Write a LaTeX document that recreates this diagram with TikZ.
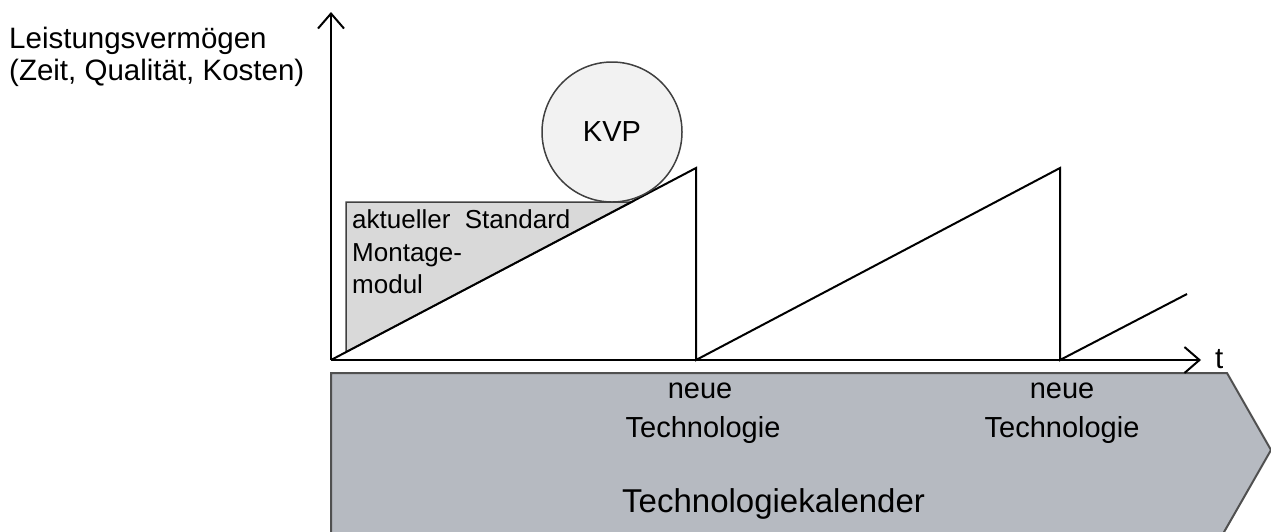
\documentclass[tikz,border=0pt]{standalone}
\usepackage{fontspec}
\setmainfont{Liberation Sans}
\usetikzlibrary{arrows.meta}
\definecolor{banner}{HTML}{B6BAC1}
\definecolor{bannerline}{HTML}{505050}
\definecolor{tri}{HTML}{D9D9D9}
\definecolor{kvp}{HTML}{F2F2F2}
\begin{document}
\begin{tikzpicture}[x=1pt,y=-1pt,
  lbl/.style={inner sep=0pt,anchor=base west,font=\fontsize{29.5}{34}\selectfont},
  clbl/.style={inner sep=0pt,anchor=base,font=\fontsize{29}{34}\selectfont},
  tlbl/.style={inner sep=0pt,anchor=base west,font=\fontsize{26}{30}\selectfont},
  axis/.style={line width=2.5pt,-{Straight Barb[length=15pt,width=26pt,line width=2pt]}},
  saw/.style={line width=2pt,line join=miter},
]
\useasboundingbox (0,0) rectangle (1271,531);
\begin{scope}
\clip (0,0) rectangle (1271,531);
% banner
\draw[fill=banner,draw=bannerline,line width=2pt]
  (331,373) -- (1227,373) -- (1271,450) -- (1208,560) -- (331,560) -- cycle;
\end{scope}
% coordinates
\coordinate (O) at (331,360);
\coordinate (Ytip) at (331,12);
\coordinate (Xtip) at (1201,360);
\coordinate (P1) at (696,168);
\coordinate (B1) at (696,360);
\coordinate (P2) at (1060,168);
\coordinate (B2) at (1060,360);
\coordinate (E) at (1187,294);
\coordinate (T1) at (346,352);
\coordinate (T2) at (346,202);
\coordinate (T3) at (632,202);
% grey triangle
\draw[fill=tri,draw=black!75,line width=1.5pt,line join=miter] (T1) -- (T2) -- (T3) -- cycle;
% axes
\draw[axis] (O) -- (Ytip);
\draw[axis] (O) -- (Xtip);
% sawtooth
\draw[saw] (O) -- (P1) -- (B1) -- (P2) -- (B2) -- (E);
% KVP circle
\node[circle,draw=black!75,fill=kvp,line width=1.5pt,minimum size=140pt,inner sep=0pt,
  font=\fontsize{29}{33}\selectfont] (kvp) at (612,132) {KVP};
% labels
\node[lbl] (l1) at (9,48) {Leistungsvermögen};
\node[lbl] (l2) at (9,80) {(Zeit, Qualität, Kosten)};
\node[lbl] (t) at (1215,368) {t};
\node[tlbl] (a1) at (352,228) {aktueller\ \ Standard};
\node[tlbl] (a2) at (352,261) {Montage-};
\node[tlbl] (a3) at (352,293) {modul};
\node[clbl] (n1) at (700,398) {neue};
\node[clbl] (n1b) at (703,437) {Technologie};
\node[clbl] (n2) at (1062,398) {neue};
\node[clbl] (n2b) at (1062,437) {Technologie};
\node[inner sep=0pt,anchor=base west,font=\fontsize{33}{38}\selectfont] (cal) at (622,512) {Technologiekalender};
\end{tikzpicture}
\end{document}
